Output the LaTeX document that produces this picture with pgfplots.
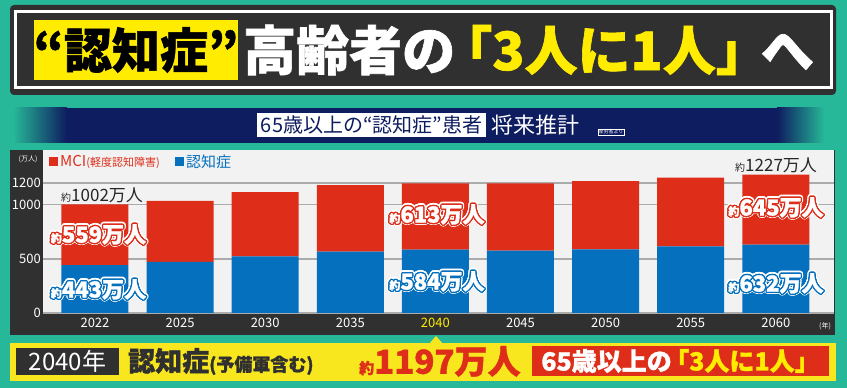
\documentclass[border=0pt]{standalone}
\usepackage{pgfplots}
\pgfplotsset{compat=1.18}
\usepackage{fontspec}
\setmainfont{Noto Sans CJK JP}
\newfontfamily\heavy{Noto Sans CJK JP}[BoldFeatures={FakeBold=1.2}]
\usepackage{contour}
\definecolor{teal1}{RGB}{38,184,152}
\definecolor{barred}{RGB}{222,46,26}
\definecolor{barblue}{RGB}{5,112,190}
\definecolor{dark}{RGB}{48,48,48}
\definecolor{plotbg}{RGB}{242,242,242}
\definecolor{navy}{RGB}{14,28,96}
\definecolor{yel}{RGB}{255,236,0}
\definecolor{band}{RGB}{248,230,30}
\newcommand{\fs}[1]{\fontsize{#1}{#1}\selectfont}
\newcommand{\olabel}[3]{%
  \node[text=#2,font=\heavy\bfseries,inner sep=0pt] at #1 {\contourlength{2.6pt}\contour{white}{#3}};
  \node[text=white,font=\heavy\bfseries,inner sep=0pt] at #1 {\contourlength{1.3pt}\contour{#2}{#3}};
}
\begin{document}
\begin{tikzpicture}
\begin{scope}[x=1pt,y=1pt]
\useasboundingbox (0,0) rectangle (847,388);
\fill[teal1] (0,0) rectangle (847,388);
% title bar
\fill[dark,rounded corners=4pt] (10,293) rectangle (836,383);
\draw[white,line width=3pt,fill=dark] (15,300) rectangle (831,376);
\fill[yel] (33.5,308) rectangle (238,368);
\node[font=\heavy\bfseries\fs{48},text=black,inner sep=0pt] at (136,338) {“認知症”};
\node[font=\heavy\bfseries\fs{53},anchor=west,inner sep=0pt] at (243,338) {\color{white}高齢者の\kern-0.3em\color{yel}「3人に1人」\kern-0.15em\color{white}へ};
% subtitle band
\shade[left color=teal1,right color=navy] (13,245) rectangle (67,280);
\fill[navy] (66.5,245) rectangle (777.5,280);
\shade[left color=navy,right color=teal1] (777,245) rectangle (824,280);
\fill[white] (257,251) rectangle (486,275);
\node[text=navy,font=\fs{20},inner sep=0pt] at (371.5,263) {65歳以上の“認知症”患者};
\node[text=white,font=\fs{22},anchor=west,inner sep=0pt] at (491,263) {将来推計};
\node[draw=white,line width=0.4pt,fill=navy,text=white,font=\fs{5},inner sep=0.8pt] at (611,256) {厚労省より};
% chart frame
\fill[dark] (10,53) rectangle (835,238);
\end{scope}
\begin{axis}[
  at={(43pt,75pt)}, anchor=south west,
  scale only axis, width=791pt, height=163pt,
  xmin=-0.611, xmax=8.684, ymin=0, ymax=1505,
  ybar stacked, bar width=67pt,
  axis line style={draw=none},
  axis background/.style={fill=plotbg},
  ymajorgrids, grid style={line width=1.6pt, color=black!33},
  ytick={0,500,1000,1200},
  xtick={0,...,8},
  xticklabels={2022,2025,2030,2035,\textcolor{yel}{2040},2045,2050,2055,2060},
  major tick length=0pt,
  tick label style={text=white, font=\fs{13}},
  /pgf/number format/assume math mode=true,
  /pgf/number format/1000 sep={},
  yticklabel style={inner xsep=2pt},
  xticklabel style={yshift=-2pt},
  clip=false
]
\addplot[fill=barblue, draw=none] coordinates {(0,443) (1,472) (2,523) (3,566) (4,584) (5,577) (6,587) (7,616) (8,632)};
\addplot[fill=barred, draw=none] coordinates {(0,559) (1,564) (2,593) (3,614) (4,613) (5,619) (6,631) (7,633) (8,645)};
\end{axis}
\begin{scope}[x=1pt,y=1pt]
% legend and units
\fill[barred] (49,222) rectangle (58,231);
\node[anchor=west,text=barred,inner sep=0pt] at (60,226.5) {{\fs{15}MCI}{\fs{11}(軽度認知障害)}};
\fill[barblue] (175,222) rectangle (184,231);
\node[anchor=west,text=barblue,inner sep=0pt,font=\fs{15}] at (186,226.5) {認知症};
\node[text=white,font=\fs{7},inner sep=0pt] at (28,229) {(万人)};
\node[text=white,font=\fs{7},inner sep=0pt] at (825,62) {(年)};
% totals
\node[anchor=west,text=black!85,inner sep=0pt] at (61,193) {{\fs{10}約}{\fs{17}1002万人}};
\node[anchor=west,text=black!85,inner sep=0pt] at (735,223) {{\fs{10}約}{\fs{17}1227万人}};
% outlined labels
\olabel{(98.5,153)}{barred}{{\fs{11}約}{\fs{22}559万人}}
\olabel{(98.5,98)}{barblue}{{\fs{11}約}{\fs{22}443万人}}
\olabel{(437,173)}{barred}{{\fs{11}約}{\fs{22}613万人}}
\olabel{(437,106)}{barblue}{{\fs{11}約}{\fs{22}584万人}}
\olabel{(776,180)}{barred}{{\fs{11}約}{\fs{22}645万人}}
\olabel{(776,104)}{barblue}{{\fs{11}約}{\fs{22}632万人}}
% bottom band
\fill[band] (10,7) rectangle (836,45);
\fill[band] (429,44) -- (443,44) -- (436,52) -- cycle;
\fill[dark] (16,13) rectangle (119,40);
\node[text=white,font=\fs{24},inner sep=0pt] at (67.5,26.5) {2040年};
\node[anchor=west,text=dark,inner sep=0pt,font=\heavy\bfseries] at (128,26.5) {{\fs{27}認知症}{\fs{18}(予備軍含む)}};
\node[anchor=west,text=barred,inner sep=0pt,font=\heavy\bfseries] at (359,26.5) {{\fs{15}約}{\fs{33}1197万人}};
\fill[barred] (532,12) rectangle (829,42);
\node[font=\heavy\bfseries\fs{25},inner sep=0pt] at (680.5,27) {\color{white}65歳以上の\kern-0.3em\color{yel}「3人に1人」};
\end{scope}
\end{tikzpicture}
\end{document}
